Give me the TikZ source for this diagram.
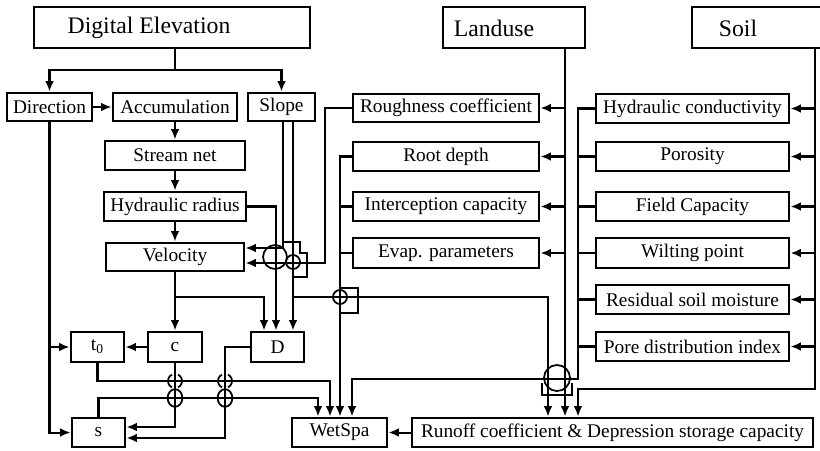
\documentclass[tikz,border=0pt]{standalone}
\usepackage{fontspec}
\setmainfont{Liberation Serif}
\usetikzlibrary{arrows.meta,fit}

\tikzset{
  arr/.style={-{Latex[length=6pt,width=5pt]}},
  pbox/.style={draw, line width=1.6pt, inner sep=0pt},
  boxtext/.style={font=\fontsize{11}{13}\selectfont, inner sep=0pt},
  topbox/.style={draw, line width=1.1pt, inner sep=0pt},
  toptext/.style={font=\fontsize{13.5}{16}\selectfont, inner sep=0pt},
  hop/.style={line width=1pt},
  skew/.style={line width=0.8pt},
}

\begin{document}
\begin{tikzpicture}[x=0.02cm, y=-0.02cm, line width=1.15pt]
    \useasboundingbox (0,0) rectangle (820,450);

    % Sources
    \node[topbox, fit={(34,7) (310,48)}] (dem) {};
    \node[toptext] (demtext) at (149,28) {Digital Elevation};
    \node[topbox, fit={(443,7) (585,48)}] (land) {};
    \node[toptext] (landtext) at (494,28) {Landuse};
    \node[topbox, fit={(692,7) (824,48)}] (soil) {};
    \node[toptext] (soiltext) at (738,28) {Soil};

    % Terrain chain
    \node[pbox, fit={(7,93) (92,121)}, label={[boxtext]center:Direction}] (dir) {};
    \node[pbox, fit={(113,93) (237,121)}, label={[boxtext]center:Accumulation}] (acc) {};
    \node[pbox, fit={(248,93) (315,121)}, label={[boxtext]center:Slope}] (slope) {};
    \node[pbox, fit={(105,141) (245,170)}, label={[boxtext]center:Stream net}] (stream) {};
    \node[pbox, fit={(104,192) (246,221)}, label={[boxtext]center:Hydraulic radius}] (hyd) {};
    \node[pbox, fit={(106,243) (244,271)}, label={[boxtext]center:Velocity}] (vel) {};
    \node[pbox, fit={(71,332) (124,362)}, label={[boxtext]center:t\textsubscript{0}}] (t0) {};
    \node[pbox, fit={(148,332) (202,362)}, label={[boxtext]center:c}] (c) {};
    \node[pbox, fit={(251,332) (304,362)}, label={[boxtext]center:D}] (d) {};
    \node[pbox, fit={(72,418) (125,447)}, label={[boxtext]center:s}] (s) {};
    \node[pbox, fit={(292,418) (387,447)}, label={[boxtext]center:WetSpa}] (wet) {};
    \node[pbox, fit={(412,418) (813,447)}, label={[boxtext]center:Runoff coefficient \& Depression storage capacity}] (run) {};

    % Landuse parameters
    \node[pbox, fit={(353,94) (539,122)}, label={[boxtext]center:Roughness coefficient}] (rough) {};
    \node[pbox, fit={(353,142) (539,171)}, label={[boxtext]center:Root depth}] (root) {};
    \node[pbox, fit={(353,192) (539,221)}, label={[boxtext]center:Interception capacity}] (icap) {};
    \node[pbox, fit={(353,238) (539,268)}, label={[boxtext]center:Evap. parameters}] (evap) {};

    % Soil parameters
    \node[pbox, fit={(596,94) (789,123)}, label={[boxtext]center:Hydraulic conductivity}] (hcond) {};
    \node[pbox, fit={(596,142) (789,171)}, label={[boxtext]center:Porosity}] (poro) {};
    \node[pbox, fit={(596,192) (789,221)}, label={[boxtext]center:Field Capacity}] (fcap) {};
    \node[pbox, fit={(596,238) (789,268)}, label={[boxtext]center:Wilting point}] (wilt) {};
    \node[pbox, fit={(596,285) (789,314)}, label={[boxtext]center:Residual soil moisture}] (resid) {};
    \node[pbox, fit={(596,332) (789,361)}, label={[boxtext]center:Pore distribution index}] (pore) {};

    % lanes
    \coordinate (xmain) at (175,0);
    \coordinate (xdl) at (225,0);
    \coordinate (xvd) at (264,0);
    \coordinate (xhyd) at (276,0);
    \coordinate (xslA) at (283,0);
    \coordinate (xslB) at (293,0);
    \coordinate (xwA) at (318,0);
    \coordinate (xrough) at (325,0);
    \coordinate (xwB) at (330,0);
    \coordinate (xlu) at (340,0);
    \coordinate (xwD) at (352,0);
    \coordinate (xrun) at (548,0);
    \coordinate (xland) at (565,0);
    \coordinate (xsp) at (578,0);
    \coordinate (xsoil) at (815,0);
    \coordinate (ysplit) at (0,70);
    \coordinate (yvA) at (0,248);
    \coordinate (yvB) at (0,263);
    \coordinate (ymid) at (0,297);
    \coordinate (yrA) at (0,379);
    \coordinate (ytA) at (0,381);
    \coordinate (yrB) at (0,389);
    \coordinate (ytB) at (0,398);
    \coordinate (ysA) at (0,427);
    \coordinate (ysB) at (0,438);

    % Digital Elevation
    \draw[arr] (dem.south -| xmain) -- (xmain |- ysplit) -| (dir.north);
    \draw[arr] (xmain |- ysplit) -| (slope.north);
    \draw[arr] (dir) -- (acc);
    \draw[arr] (acc) -- (stream);
    \draw[arr] (stream) -- (hyd);
    \draw[arr] (hyd) -- (vel);
    \draw[arr] (hyd.east) -| (d.north -| xhyd);
    \draw[arr] (slope.south -| xslA) |- (vel.east |- yvA);
    \draw[arr] (slope.south -| xslB) -- (d.north -| xslB);
    \draw[arr] (xslB |- ymid) -| (run.north -| xrun);
    \draw[arr] (rough.west) -| (xrough |- yvB) -- (vel.east |- yvB);
    \draw[arr] (vel) -- (c);
    \draw[arr] (xmain |- ymid) -| (d.north -| xvd);
    \draw[arr] (c) -- (t0);
    \draw[arr] (dir.south) |- (t0);
    \draw[arr] (dir.south) |- (s);
    \draw[arr] (c.south) |- (s.east |- ysA);
    \draw[arr] (d.west) -| (xdl |- ysB) -- (s.east |- ysB);
    \draw[arr] (t0.south) |- (xwB |- ytA) -- (wet.north -| xwB);
    \draw[arr] (s.north) |- (xwA |- ytB) -- (wet.north -| xwA);

    % Landuse
    \draw[arr] (land.south -| xland) -- (run.north -| xland);
    \foreach \n in {rough,root,icap,evap}
        \draw[arr] (\n.east -| xland) -- (\n.east);
    \draw[arr] (root.west) -| (wet.north -| xlu);
    \foreach \n in {icap,evap}
        \draw (\n.west) -- (\n.west -| xlu);

    % Soil
    \draw[arr] (soil.south -| xsoil) |- (xsp |- yrB) -- (run.north -| xsp);
    \foreach \n in {hcond,poro,fcap,wilt,resid,pore}
        \draw[arr] (\n.east -| xsoil) -- (\n.east);
    \draw[arr] (hcond.west) -| (xsp |- yrA) -| (wet.north -| xwD);
    \foreach \n in {poro,fcap,wilt,resid,pore}
        \draw (\n.west) -- (\n.west -| xsp);
    \draw[arr] (run) -- (wet);

    % crossings
    \draw[hop] (275,257) circle[radius=6.8pt];
    \draw[hop] (293,262) circle[radius=4pt];
    \draw[hop] (340,297) circle[radius=4pt];
    \draw[hop] (557,378) circle[radius=7.4pt];
    \foreach \x in {175,225} {
        \draw[hop] ([shift={(\x,381)}]115:4pt) arc[start angle=115, end angle=245, radius=4pt];
        \draw[hop] ([shift={(\x,381)}]-65:4pt) arc[start angle=-65, end angle=65, radius=4pt];
        \draw[hop] (\x,398) ellipse[x radius=4.2pt, y radius=5pt];
    }
    \draw[skew] (282,242) -- (300,242) -- (300,253) -- (307,253) -- (307,277) -- (293,277);
    \draw[skew] (341,288) -- (358,288) -- (358,313) -- (341,313);
    \draw[skew] (542,383) -- (542,395) -- (572,395) -- (572,383);
\end{tikzpicture}
\end{document}
